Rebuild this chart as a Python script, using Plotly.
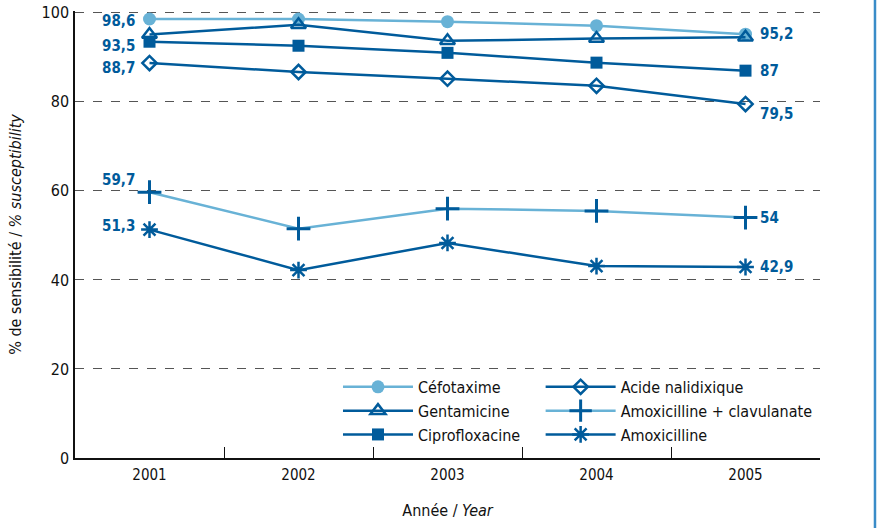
import plotly.graph_objects as go

years = ["2001", "2002", "2003", "2004", "2005"]
cefotaxime = [98.6, 98.6, 98.0, 97.1, 95.2]
gentamicine = [95.1, 97.3, 93.7, 94.2, 94.5]
ciprofloxacine = [93.5, 92.6, 91.0, 88.8, 87.0]
acide_nalidixique = [88.7, 86.7, 85.2, 83.6, 79.5]
amox_clav = [59.7, 51.5, 56.0, 55.5, 54.0]
amoxicilline = [51.3, 42.2, 48.3, 43.1, 42.9]

DARK = "#005B9B"
LIGHT = "#68B2D6"
FONT = "DejaVu Sans Condensed, Liberation Sans Narrow, Roboto, sans-serif"

fig = go.Figure()

def add(name, y, color, symbol, size, legend, lw=2.5, mlw=2.5, mcolor=None):
    fig.add_trace(go.Scatter(
        x=years, y=y, name=name, mode="lines+markers", legend=legend,
        line=dict(color=color, width=lw),
        marker=dict(symbol=symbol, size=size, color=mcolor or DARK,
                    line=dict(color=mcolor or DARK, width=mlw)),
    ))

add("Céfotaxime", cefotaxime, LIGHT, "circle", 13, "legend", mlw=0, mcolor=LIGHT)
add("Gentamicine", gentamicine, DARK, "triangle-up-open", 13, "legend")
add("Ciprofloxacine", ciprofloxacine, DARK, "square", 12, "legend", mlw=0)
add("Acide nalidixique", acide_nalidixique, DARK, "diamond-open", 11, "legend2")
add("Amoxicilline + clavulanate", amox_clav, LIGHT, "cross-thin-open", 17, "legend2", mlw=3)
add("Amoxicilline", amoxicilline, DARK, "asterisk-open", 14, "legend2", mlw=2.5)

def fmt(v):
    s = ("%.1f" % v).rstrip("0").rstrip(".")
    return s.replace(".", ",")

lab_font = dict(family=FONT, size=15, color=DARK)
first, last = 0, len(years) - 1
left = [(cefotaxime, -2), (ciprofloxacine, -4), (acide_nalidixique, -5),
        (amox_clav, 12), (amoxicilline, 4)]
for arr, dy in left:
    fig.add_annotation(x=first, y=arr[first], text="<b>" + fmt(arr[first]) + "</b>",
                       showarrow=False, xanchor="right", xshift=-13, yshift=dy,
                       font=lab_font)
right = [(cefotaxime, 0), (ciprofloxacine, 0), (acide_nalidixique, -10),
         (amox_clav, 0), (amoxicilline, 0)]
for arr, dy in right:
    fig.add_annotation(x=last, y=arr[last], text="<b>" + fmt(arr[last]) + "</b>",
                       showarrow=False, xanchor="left", xshift=12, yshift=dy,
                       font=lab_font)

fig.add_shape(type="line", xref="paper", yref="paper", x0=1.0738, x1=1.0738,
              y0=-0.2, y1=1.1, line=dict(color="#3A8CC8", width=2.5))

leg_common = dict(orientation="v", xanchor="left", yanchor="top", itemwidth=70,
                  bgcolor="rgba(255,255,255,0)", font=dict(family=FONT, size=16, color="#111"),
                  tracegroupgap=0, itemclick=False)

fig.update_layout(
    width=879, height=528,
    margin=dict(l=75, r=59, t=11, b=70),
    paper_bgcolor="white", plot_bgcolor="white",
    font=dict(family=FONT, size=15, color="#111"),
    showlegend=True,
    legend=dict(x=0.353, y=0.197, **leg_common),
    legend2=dict(x=0.625, y=0.197, **leg_common),
)
fig.update_xaxes(
    type="category", tickson="boundaries", ticks="inside", ticklen=11,
    tickcolor="#111", showline=True, linecolor="#111", linewidth=1.5,
    showgrid=False, range=[-0.5, 4.5], automargin=False,
    title=dict(text="Année / <i>Year</i>", font=dict(size=16), standoff=22),
    tickfont=dict(size=15), ticklabelstandoff=2,
)
fig.update_yaxes(
    range=[0, 100.4], tickvals=[0, 20, 40, 60, 80, 100], showline=True,
    linecolor="#111", linewidth=1.5, ticks="", showgrid=True,
    gridcolor="#555", griddash="dash", gridwidth=1, zeroline=False, automargin=False,
    title=dict(text="% de sensibilité / <i>% susceptibility</i>", font=dict(size=16), standoff=16),
    tickfont=dict(size=16), ticklabelstandoff=1,
)

fig.write_html("out.html", config={"displayModeBar": False},
               post_script="document.body.style.margin='0';document.body.style.padding='0';")
